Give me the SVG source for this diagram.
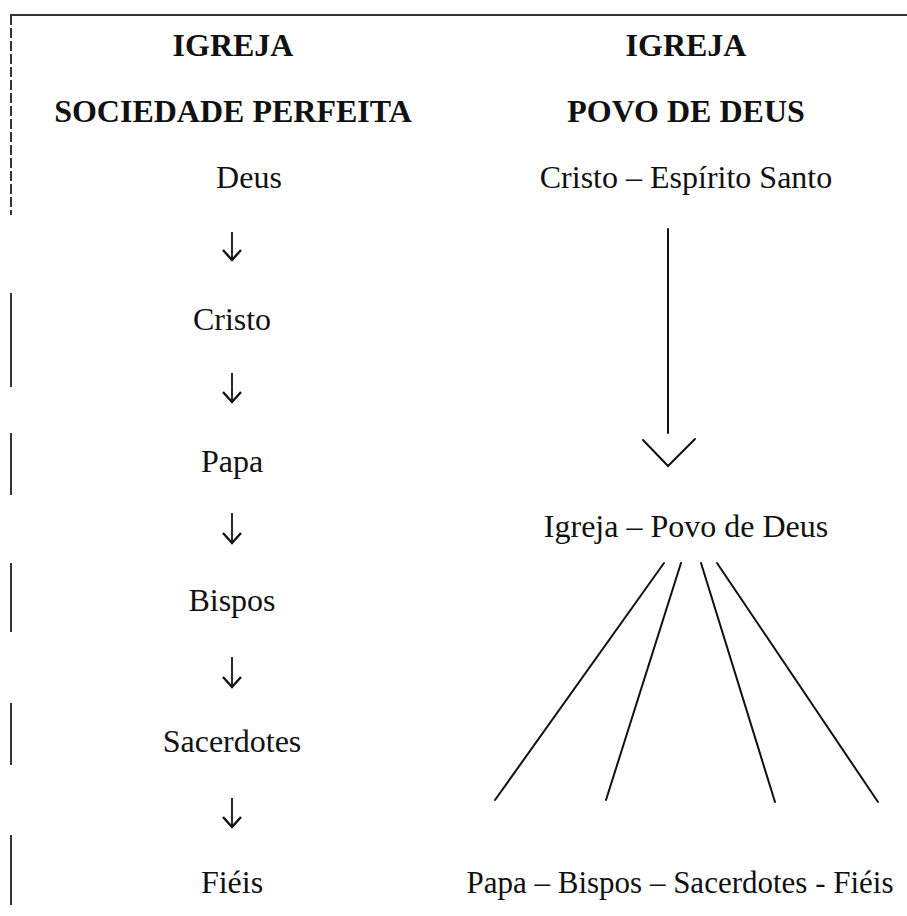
<svg xmlns="http://www.w3.org/2000/svg" width="907" height="916" viewBox="0 0 907 916">
<style>
.t{font-family:"Liberation Serif","Times New Roman",serif;font-size:32px;fill:#111;text-anchor:middle}
.b{font-weight:bold}
.ln{stroke:#111;stroke-width:2;fill:none;stroke-linecap:round}
.ar{stroke:#111;stroke-width:1.8;fill:none}
.ah{stroke:#111;stroke-width:2.4;fill:none;stroke-linejoin:miter}
.frame{stroke:#333;stroke-width:2;fill:none}
</style>
<rect x="0" y="0" width="907" height="916" fill="#ffffff"/>
<g id="frame">
  <line class="frame" x1="10" y1="15" x2="907" y2="15"/>
  <path class="frame" stroke-width="1.5" stroke="#555" stroke-dasharray="10 3" d="M11 15V215"/>
  <path class="frame" stroke-width="1.5" d="M11 293V387M11 433V495M11 563V632M11 703V765M11 835V905"/>
</g>
<g id="head-left">
  <text class="t b" x="233" y="56">IGREJA</text>
  <text class="t b" x="233" y="122">SOCIEDADE PERFEITA</text>
</g>
<g id="head-right">
  <text class="t b" x="686" y="56">IGREJA</text>
  <text class="t b" x="686" y="122">POVO DE DEUS</text>
</g>
<g id="n-deus"><text class="t" x="249" y="188">Deus</text></g>
<g id="n-cristo"><text class="t" x="232" y="330">Cristo</text></g>
<g id="n-papa"><text class="t" x="232" y="472">Papa</text></g>
<g id="n-bispos"><text class="t" x="232" y="611">Bispos</text></g>
<g id="n-sacerdotes"><text class="t" x="232" y="752">Sacerdotes</text></g>
<g id="n-fieis"><text class="t" x="232" y="893">Fiéis</text></g>
<g id="n-cristo-espirito"><text class="t" x="686" y="188">Cristo – Espírito Santo</text></g>
<g id="n-igreja-povo"><text class="t" x="686" y="537">Igreja – Povo de Deus</text></g>
<g id="n-membros"><text class="t" x="680" y="893" style="font-size:31px">Papa – Bispos – Sacerdotes - Fiéis</text></g>
<g id="connectors">
  <line class="ar" x1="232" y1="232" x2="232" y2="260"/>
  <polyline class="ah" points="223,250 232,260 241,250"/>
  <line class="ar" x1="232" y1="373" x2="232" y2="402"/>
  <polyline class="ah" points="223,392 232,402 241,392"/>
  <line class="ar" x1="232" y1="513" x2="232" y2="543"/>
  <polyline class="ah" points="223,533 232,543 241,533"/>
  <line class="ar" x1="232" y1="657" x2="232" y2="687"/>
  <polyline class="ah" points="223,677 232,687 241,677"/>
  <line class="ar" x1="232" y1="798" x2="232" y2="827"/>
  <polyline class="ah" points="223,817 232,827 241,817"/>
  <line class="ln" x1="668" y1="229" x2="668" y2="433"/>
  <polyline class="ln" points="643,440 668,466 695,439"/>
  <line class="ln" x1="664" y1="563" x2="495" y2="800"/>
  <line class="ln" x1="681" y1="563" x2="606" y2="800"/>
  <line class="ln" x1="701" y1="563" x2="775" y2="802"/>
  <line class="ln" x1="717" y1="563" x2="878" y2="802"/>
</g>
</svg>
